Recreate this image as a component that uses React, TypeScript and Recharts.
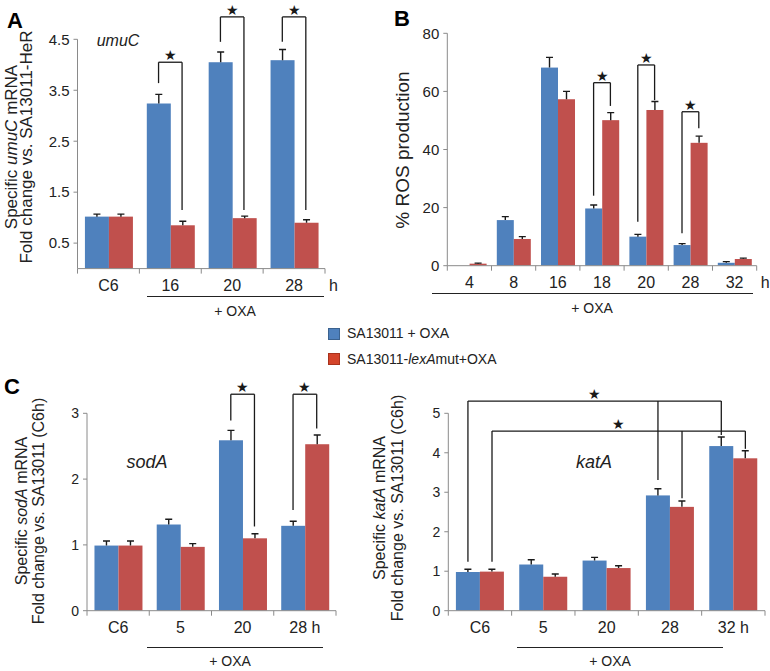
import React from 'react'
import { BarChart, Bar, XAxis, YAxis, ReferenceLine } from 'recharts'

const BLUE = '#4f81bd'
const RED = '#c0504d'
const AXIS = '#8a8a8a'
const INK = '#1a1a1a'
const FONT = '"Liberation Sans", Arial, sans-serif'
const GAP = 0.12
// half a bar width, in category units (two bars side by side, no gap between them)
const HALF = (1 - 2 * GAP) / 4

type Leg = [number, 'b' | 'r', number]
type Bracket = { top: number; legs: Leg[] }

// A: umuC
const catsA = ['C6', '16', '20', '28']
const blueA = [1.02, 3.24, 4.05, 4.09]
const blueErrA = [0.05, 0.18, 0.2, 0.21]
const redA = [1.02, 0.85, 0.99, 0.9]
const redErrA = [0.05, 0.08, 0.04, 0.06]
const ticksA = [0.5, 1.5, 2.5, 3.5, 4.5]
const sigA: Bracket[] = [
  { top: 4.05, legs: [[1, 'b', 3.64], [1, 'r', 1.15]] },
  { top: 4.94, legs: [[2, 'b', 4.45], [2, 'r', 1.15]] },
  { top: 4.94, legs: [[3, 'b', 4.45], [3, 'r', 1.15]] },
]

// B: ROS
const catsB = ['4', '8', '16', '18', '20', '28', '32']
const blueB = [0, 15.7, 68.2, 19.7, 10.0, 7.1, 1.0]
const blueErrB = [0, 1.2, 3.5, 1.2, 0.8, 0.5, 0.4]
const redB = [0.7, 9.2, 57.3, 50.1, 53.6, 42.3, 2.3]
const redErrB = [0.2, 0.8, 2.7, 2.6, 2.9, 2.3, 0.3]
const ticksB = [0, 20, 40, 60, 80]
const sigB: Bracket[] = [
  { top: 63, legs: [[3, 'b', 24.1], [3, 'r', 55]] },
  { top: 69.1, legs: [[4, 'b', 15.1], [4, 'r', 57]] },
  { top: 53, legs: [[5, 'b', 11.2], [5, 'r', 47.3]] },
]

// C left: sodA
const catsS = ['C6', '5', '20', '28 h']
const blueS = [0.99, 1.31, 2.59, 1.29]
const blueErrS = [0.07, 0.08, 0.15, 0.07]
const redS = [0.99, 0.97, 1.1, 2.53]
const redErrS = [0.07, 0.05, 0.07, 0.14]
const ticksS = [0, 1, 2, 3]
const sigS: Bracket[] = [
  { top: 3.29, legs: [[2, 'b', 2.89], [2, 'r', 1.28]] },
  { top: 3.29, legs: [[3, 'b', 1.53], [3, 'r', 2.77]] },
]

// C right: katA
const catsK = ['C6', '5', '20', '28', '32 h']
const blueK = [0.98, 1.17, 1.27, 2.92, 4.17]
const blueErrK = [0.07, 0.12, 0.08, 0.17, 0.23]
const redK = [0.99, 0.86, 1.08, 2.63, 3.86]
const redErrK = [0.06, 0.07, 0.06, 0.15, 0.19]
const ticksK = [0, 1, 2, 3, 4, 5]
const sigK: Bracket[] = [
  { top: 5.31, legs: [[0, 'b', 1.24], [3, 'b', 3.31], [4, 'b', 4.45]] },
  { top: 4.55, legs: [[0, 'r', 1.24], [3, 'r', 2.85], [4, 'r', 4.1]] },
]

const legX = (i: number, side: 'b' | 'r') => i + 0.5 + (side === 'b' ? -HALF : HALF)

function barShape(valKey: string, errKey: string) {
  return (p: any) => {
    const { x, y, width, height, fill, payload } = p
    const v = payload[valKey]
    const err = payload[errKey]
    const k = v > 0 ? height / v : 0
    const top = y - err * k
    const cx = x + width / 2
    return (
      <g>
        <rect x={x} y={y} width={width} height={height} fill={fill} />
        {err > 0 && k > 0 && (
          <g stroke={INK} strokeWidth={1.4}>
            <line x1={cx} x2={cx} y1={y} y2={top} />
            <line x1={cx - 3.5} x2={cx + 3.5} y1={top} y2={top} />
          </g>
        )}
      </g>
    )
  }
}

function makeTick(band: number, count: number, unit?: string) {
  return (p: any) => {
    const { x, y, payload, index } = p
    const ax = y - 5
    return (
      <g>
        <text x={x} y={ax + 17} textAnchor="middle" dominantBaseline="central"
          fontSize={16} fill="#222" fontFamily={FONT}>{payload.value}</text>
        {index === 0 && <line x1={x - band / 2} x2={x - band / 2} y1={ax} y2={ax + 5} stroke={AXIS} />}
        <line x1={x + band / 2} x2={x + band / 2} y1={ax} y2={ax + 5} stroke={AXIS} />
        {unit && index === count - 1 && (
          <text x={x + band / 2 + 4} y={ax + 17} dominantBaseline="central"
            fontSize={16} fill="#222" fontFamily={FONT}>{unit}</text>
        )}
      </g>
    )
  }
}

interface PanelProps {
  left: number
  top: number
  width: number
  height: number
  plot: [number, number, number, number]
  cats: string[]
  blue: number[]
  blueErr: number[]
  red: number[]
  redErr: number[]
  domain: [number, number]
  ticks: number[]
  brackets: Bracket[]
  unit?: string
  tickFont: number
}

function Panel(props: PanelProps) {
  const { left, top, width, height, plot, cats, blue, blueErr, red, redErr, domain, ticks, brackets, unit, tickFont } = props
  const [x0, y0, x1, y1] = plot
  const yw = 40
  const xh = 30
  const margin = {
    left: x0 - left - yw,
    top: y0 - top,
    right: left + width - x1,
    bottom: top + height - y1 - xh,
  }
  const band = (x1 - x0) / cats.length
  // n = centre of each category on a continuous 0..N axis, used to place the brackets
  const data = cats.map((c, i) => ({ c, n: i + 0.5, b: blue[i], be: blueErr[i], r: red[i], re: redErr[i] }))

  const lines: React.ReactNode[] = []
  brackets.forEach((br, bi) => {
    const xs = br.legs.map(([i, s]) => legX(i, s))
    const lo = Math.min(...xs)
    const hi = Math.max(...xs)
    lines.push(
      <ReferenceLine key={`h${bi}`} xAxisId="n" ifOverflow="visible" stroke={INK} strokeWidth={1.3}
        segment={[{ x: lo, y: br.top }, { x: hi, y: br.top }]}
        label={{ value: '★', position: 'top', fill: INK, fontSize: 14, offset: 2 }} />
    )
    br.legs.forEach(([i, s, bottom], li) => {
      const lx = legX(i, s)
      lines.push(
        <ReferenceLine key={`v${bi}-${li}`} xAxisId="n" ifOverflow="visible" stroke={INK} strokeWidth={1.3}
          segment={[{ x: lx, y: bottom }, { x: lx, y: br.top }]} />
      )
    })
  })

  return (
    <div style={{ position: 'absolute', left, top }}>
      <BarChart width={width} height={height} data={data} margin={margin}
        barCategoryGap={`${GAP * 100}%`} barGap={0}>
        <XAxis dataKey="c" tickLine={false} axisLine={{ stroke: AXIS }} height={xh}
          tickSize={5} tickMargin={0} interval={0} tick={makeTick(band, cats.length, unit)} />
        <XAxis xAxisId="n" dataKey="n" type="number" domain={[0, cats.length]} allowDataOverflow hide />
        <YAxis width={yw} domain={domain} ticks={ticks} allowDataOverflow interval={0}
          axisLine={{ stroke: AXIS }} tickLine={{ stroke: AXIS }} tickSize={4} tickMargin={4}
          tick={{ fill: '#222', fontSize: tickFont, fontFamily: FONT }} />
        <Bar dataKey="b" fill={BLUE} isAnimationActive={false} shape={barShape('b', 'be')} />
        <Bar dataKey="r" fill={RED} isAnimationActive={false} shape={barShape('r', 're')} />
        {lines}
      </BarChart>
    </div>
  )
}

const abs = (l: number, t: number, extra: React.CSSProperties = {}): React.CSSProperties => ({
  position: 'absolute', left: l, top: t, ...extra,
})

function VLabel({ cx, cy, size, lh, children }: { cx: number; cy: number; size: number; lh: number; children: React.ReactNode }) {
  return (
    <div style={abs(cx, cy, {
      transform: 'translate(-50%, -50%) rotate(-90deg)', whiteSpace: 'nowrap', textAlign: 'center',
      fontSize: size, lineHeight: `${lh}px`, color: '#222',
    })}>{children}</div>
  )
}

function Centered({ cx, cy, size, italic, bold, children }: { cx: number; cy: number; size: number; italic?: boolean; bold?: boolean; children: React.ReactNode }) {
  return (
    <div style={abs(cx, cy, {
      transform: 'translate(-50%, -50%)', whiteSpace: 'nowrap', fontSize: size, lineHeight: 1,
      fontStyle: italic ? 'italic' : 'normal', fontWeight: bold ? 700 : 400, color: bold ? '#000' : '#222',
    })}>{children}</div>
  )
}

const Rule = ({ x0, x1, y }: { x0: number; x1: number; y: number }) => (
  <div style={abs(x0, y, { width: x1 - x0, height: 1, background: '#222' })} />
)

export default function App() {
  return (
    <div style={{ position: 'absolute', left: 0, top: 0, width: 770, height: 671, background: '#fff', fontFamily: FONT, overflow: 'hidden' }}>
      <Panel left={0} top={0} width={345} height={300} plot={[77.5, 39.3, 325, 268.6]}
        cats={catsA} blue={blueA} blueErr={blueErrA} red={redA} redErr={redErrA}
        domain={[0, 4.5]} ticks={ticksA} brackets={sigA} unit="h" tickFont={15} />
      <Panel left={390} top={0} width={380} height={300} plot={[447.3, 33.3, 756.7, 265.7]}
        cats={catsB} blue={blueB} blueErr={blueErrB} red={redB} redErr={redErrB}
        domain={[0, 80]} ticks={ticksB} brackets={sigB} unit="h" tickFont={15} />
      <Panel left={0} top={380} width={345} height={291} plot={[87, 413.3, 336, 610.7]}
        cats={catsS} blue={blueS} blueErr={blueErrS} red={redS} redErr={redErrS}
        domain={[0, 3]} ticks={ticksS} brackets={sigS} tickFont={14} />
      <Panel left={380} top={380} width={390} height={291} plot={[448.3, 413.3, 765, 610.7]}
        cats={catsK} blue={blueK} blueErr={blueErrK} red={redK} redErr={redErrK}
        domain={[0, 5]} ticks={ticksK} brackets={sigK} tickFont={14} />

      <Centered cx={15} cy={21} size={22} bold>A</Centered>
      <Centered cx={402} cy={19} size={22} bold>B</Centered>
      <Centered cx={12} cy={387} size={22} bold>C</Centered>

      <VLabel cx={19} cy={147} size={17} lh={15}>
        Specific <i>umuC</i> mRNA<br />Fold change vs. SA13011-HeR
      </VLabel>
      <VLabel cx={403} cy={150} size={19} lh={20}>% ROS production</VLabel>
      <VLabel cx={30} cy={511} size={16} lh={17}>
        Specific <i>sodA</i> mRNA<br />Fold change vs. SA13011 (C6h)
      </VLabel>
      <VLabel cx={389} cy={508} size={16} lh={18}>
        Specific <i>katA</i> mRNA<br />Fold change vs. SA13011 (C6h)
      </VLabel>

      <Centered cx={118} cy={41} size={16} italic>umuC</Centered>
      <Centered cx={147} cy={462} size={18} italic>sodA</Centered>
      <Centered cx={594} cy={462} size={18} italic>katA</Centered>

      <Rule x0={147} x1={324} y={296} />
      <Centered cx={235} cy={311} size={14}>+ OXA</Centered>
      <Rule x0={432} x1={753} y={293} />
      <Centered cx={592} cy={308} size={14}>+ OXA</Centered>
      <Rule x0={147} x1={323} y={647} />
      <Centered cx={230} cy={661} size={14}>+ OXA</Centered>
      <Rule x0={517} x1={723} y={647} />
      <Centered cx={610} cy={661} size={14}>+ OXA</Centered>

      <div style={abs(328, 328, { width: 10, height: 10, background: BLUE, border: '1px solid #3b628f' })} />
      <div style={abs(347, 333, { transform: 'translateY(-50%)', fontSize: 14, lineHeight: 1, whiteSpace: 'nowrap', color: '#222' })}>
        SA13011 + OXA
      </div>
      <div style={abs(328, 353, { width: 10, height: 10, background: '#d4442a', border: '1px solid #a8321c' })} />
      <div style={abs(347, 359, { transform: 'translateY(-50%)', fontSize: 14, lineHeight: 1, whiteSpace: 'nowrap', color: '#222' })}>
        SA13011-<i>lexA</i>mut+OXA
      </div>
    </div>
  )
}
